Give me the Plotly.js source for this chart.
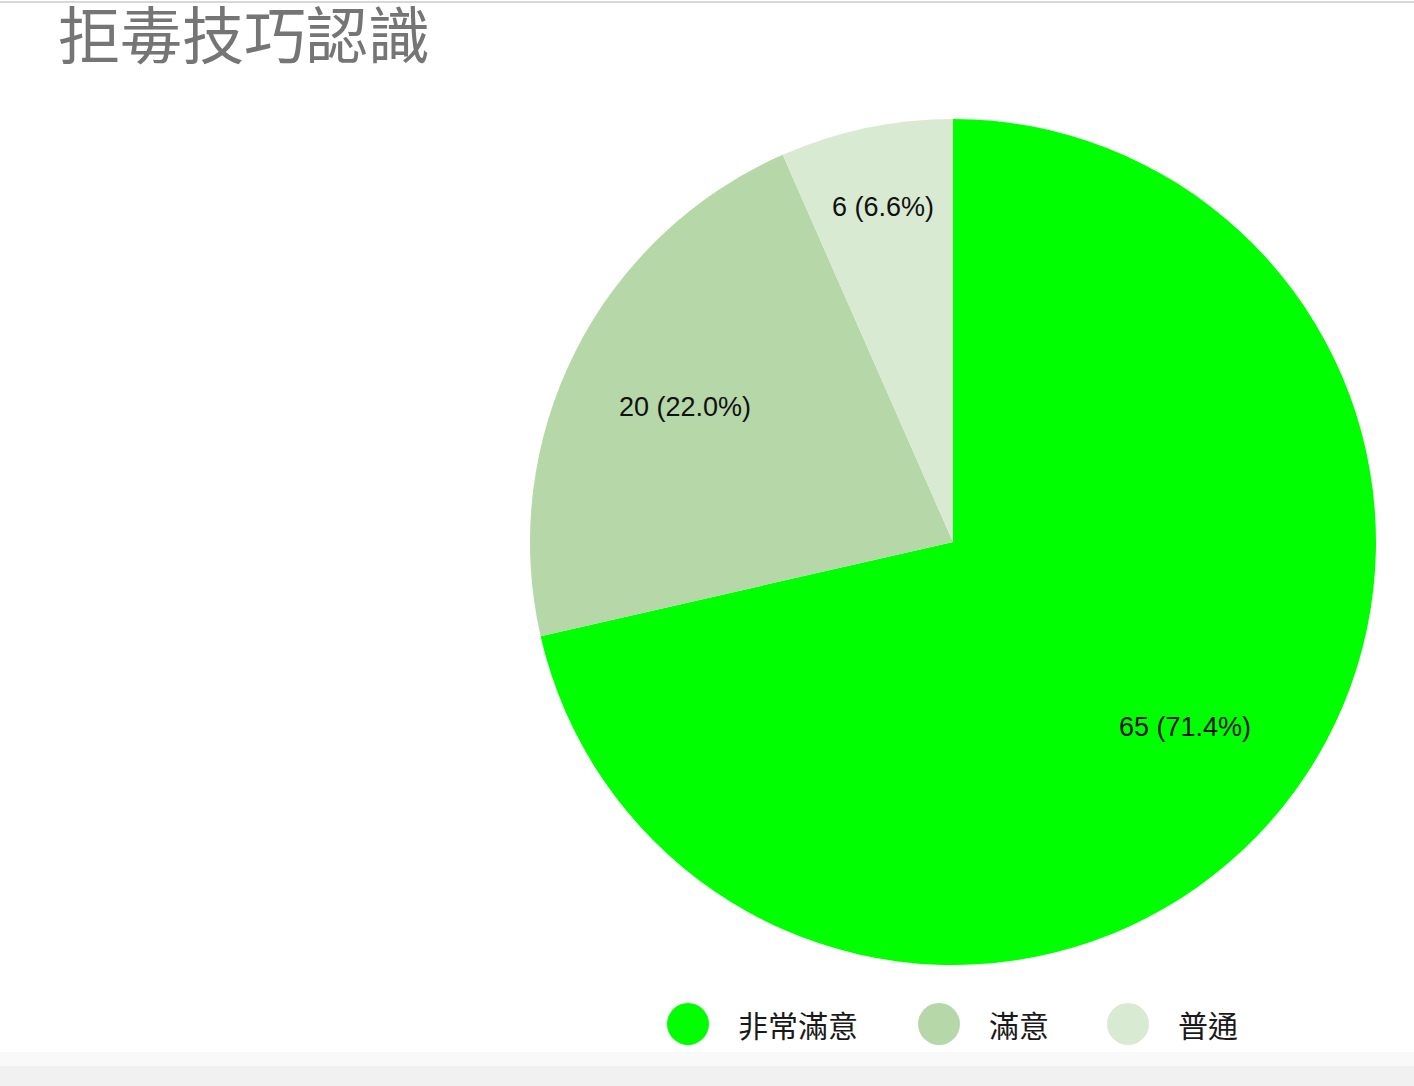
<!DOCTYPE html>
<html>
<head>
<meta charset="utf-8">
<script src="https://cdn.plot.ly/plotly-3.0.1.min.js"></script>
<style>
  html, body { margin: 0; padding: 0; background: #fff; }
  #chart { width: 1414px; height: 1086px; }
</style>
</head>
<body>
<div id="chart"></div>
<script>
var chartTitle = '拒毒技巧認識';
var labels = ['非常滿意', '滿意', '普通'];
var values = [65, 20, 6];
var colors = ['#00ff00', '#b6d7a8', '#d9ead3'];

var W = 1414, H = 1086;
// pie placement in pixels
var cx = 953, cy = 542, R = 423;
// how far out (fraction of radius) each slice label sits
var labelRadius = [0.70, 0.71, 0.81];

var data = [{
    type: 'pie',
    labels: labels,
    values: values,
    sort: false,
    direction: 'clockwise',
    rotation: 0,
    marker: { colors: colors, line: { width: 0 } },
    textinfo: 'none',
    hoverinfo: 'label+value+percent',
    showlegend: false,
    domain: { x: [(cx - R) / W, (cx + R) / W], y: [(H - cy - R) / H, (H - cy + R) / H] }
}];

var shapes = [];
var annotations = [];

// slice labels, placed at the middle angle of each slice
var total = values.reduce(function (a, b) { return a + b; }, 0);
var cum = 0;
values.forEach(function (v, i) {
    var mid = (cum + v / 2) / total * 2 * Math.PI;
    cum += v;
    var px = cx + Math.sin(mid) * R * labelRadius[i];
    var py = cy - Math.cos(mid) * R * labelRadius[i];
    annotations.push({
        xref: 'paper', yref: 'paper',
        x: px / W, y: 1 - py / H,
        xanchor: 'center', yanchor: 'middle',
        text: v + ' (' + (v / total * 100).toFixed(1) + '%)',
        showarrow: false,
        font: { family: 'Liberation Sans, Arial, sans-serif', size: 27, color: '#111' }
    });
});

// custom legend with round swatches
var legendX = [688, 939, 1128];
var legendY = 1 - 1024 / H;
labels.forEach(function (lab, i) {
    shapes.push({
        type: 'circle', xref: 'paper', yref: 'paper',
        xsizemode: 'pixel', ysizemode: 'pixel',
        xanchor: legendX[i] / W, yanchor: legendY,
        x0: -21, x1: 21, y0: -21, y1: 21,
        fillcolor: colors[i], line: { width: 0 }
    });
    annotations.push({
        xref: 'paper', yref: 'paper',
        x: (legendX[i] + 48) / W, y: legendY,
        xanchor: 'left', yanchor: 'middle',
        text: lab, showarrow: false,
        font: { family: 'Noto Sans CJK TC, sans-serif', size: 30, color: '#1a1a1a' }
    });
});

// faint top rule and grey strip at the bottom of the screenshot
shapes.push({
    type: 'line', xref: 'paper', yref: 'paper',
    x0: 0, x1: 1, y0: 1 - 2 / H, y1: 1 - 2 / H,
    line: { color: '#d8d8d8', width: 2 }
});
shapes.push({
    type: 'rect', xref: 'paper', yref: 'paper',
    x0: 0, x1: 1, y0: 20 / H, y1: 34 / H,
    fillcolor: '#f9f9f9', line: { width: 0 }, layer: 'below'
});
shapes.push({
    type: 'rect', xref: 'paper', yref: 'paper',
    x0: 0, x1: 1, y0: 0, y1: 20 / H,
    fillcolor: '#f1f1f1', line: { width: 0 }, layer: 'below'
});

var layout = {
    width: W,
    height: H,
    margin: { l: 0, r: 0, t: 0, b: 0 },
    paper_bgcolor: '#fff',
    title: {
        text: chartTitle,
        x: 58 / W, xanchor: 'left',
        y: 1 - 37 / H, yanchor: 'middle',
        font: { family: 'Noto Sans CJK TC, sans-serif', size: 62, color: '#757575' }
    },
    shapes: shapes,
    annotations: annotations,
    showlegend: false
};

Plotly.newPlot('chart', data, layout, { displayModeBar: false });
</script>
</body>
</html>
